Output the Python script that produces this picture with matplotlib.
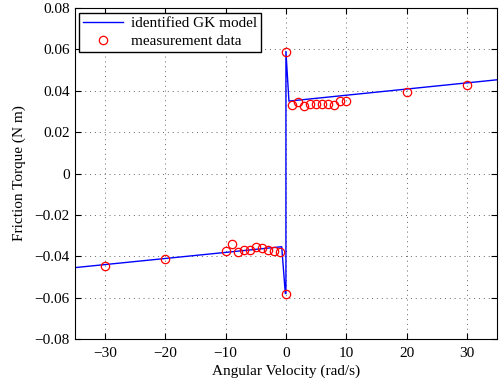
import numpy as np
import matplotlib
matplotlib.use("Agg")
import matplotlib.pyplot as plt

meas_velocity = [-30, -20, -10, -9, -8, -7, -6, -5, -4, -3, -2, -1, 0,
                 0, 1, 2, 3, 4, 5, 6, 7, 8, 9, 10, 20, 30]
meas_torque   = [-0.0447, -0.0414, -0.0376, -0.0342, -0.0378, -0.0371, -0.0368,
                 -0.0355, -0.0360, -0.0370, -0.0374, -0.0379, -0.0582,
                 0.0588, 0.0331, 0.0347, 0.0326, 0.0334, 0.0336, 0.0336,
                 0.0336, 0.0332, 0.0349, 0.0352, 0.0392, 0.0427]

# Identified GK model curve.
model_velocity = [-35, -0.7, -0.1, 0.0, 0.0, 0.5, 35]
model_torque   = [-0.0455, -0.0354, -0.0580, -0.0580, 0.0590, 0.0350, 0.0453]

plt.rcParams['font.family'] = ['Liberation Serif', 'DejaVu Serif']

fig = plt.figure(figsize=(4.99, 3.82), dpi=100)
ax = fig.add_axes([0.150, 0.1126, 0.846, 0.8664])

ax.plot(model_velocity, model_torque, color='blue', linewidth=1.0, label='identified GK model')
ax.plot(meas_velocity, meas_torque, 'o', markerfacecolor='none', markeredgecolor='red',
        markersize=6, markeredgewidth=0.9, label='measurement data')

ax.set_xlim(-35, 35)
ax.set_ylim(-0.08, 0.08)
ax.set_xticks([-30, -20, -10, 0, 10, 20, 30])
ax.set_yticks(np.linspace(-0.08, 0.08, 9))
ax.set_yticklabels(['\u22120.08', '\u22120.06', '\u22120.04', '\u22120.02', '0',
                    '0.02', '0.04', '0.06', '0.08'])
ax.set_xticklabels(['\u221230', '\u221220', '\u221210', '0', '10', '20', '30'])

ax.grid(True, linestyle=(0, (1, 4)), color='0.4', linewidth=0.7)
ax.tick_params(direction='in', top=True, right=True, length=4, labelsize=11, width=0.8)
ax.tick_params(axis='x', pad=6)
for s in ax.spines.values():
    s.set_linewidth(0.8)

ax.set_xlabel('Angular Velocity (rad/s)', fontsize=11, labelpad=3)
ax.set_ylabel('Friction Torque (N m)', fontsize=11, labelpad=6)

leg = ax.legend(loc='upper left', fontsize=11, fancybox=False, framealpha=1,
                edgecolor='black', borderpad=0.25, handlelength=2.6, labelspacing=0.3,
                handletextpad=0.5, borderaxespad=0.3)
leg.get_frame().set_linewidth(1.0)

fig.savefig('out.png', dpi=100)
